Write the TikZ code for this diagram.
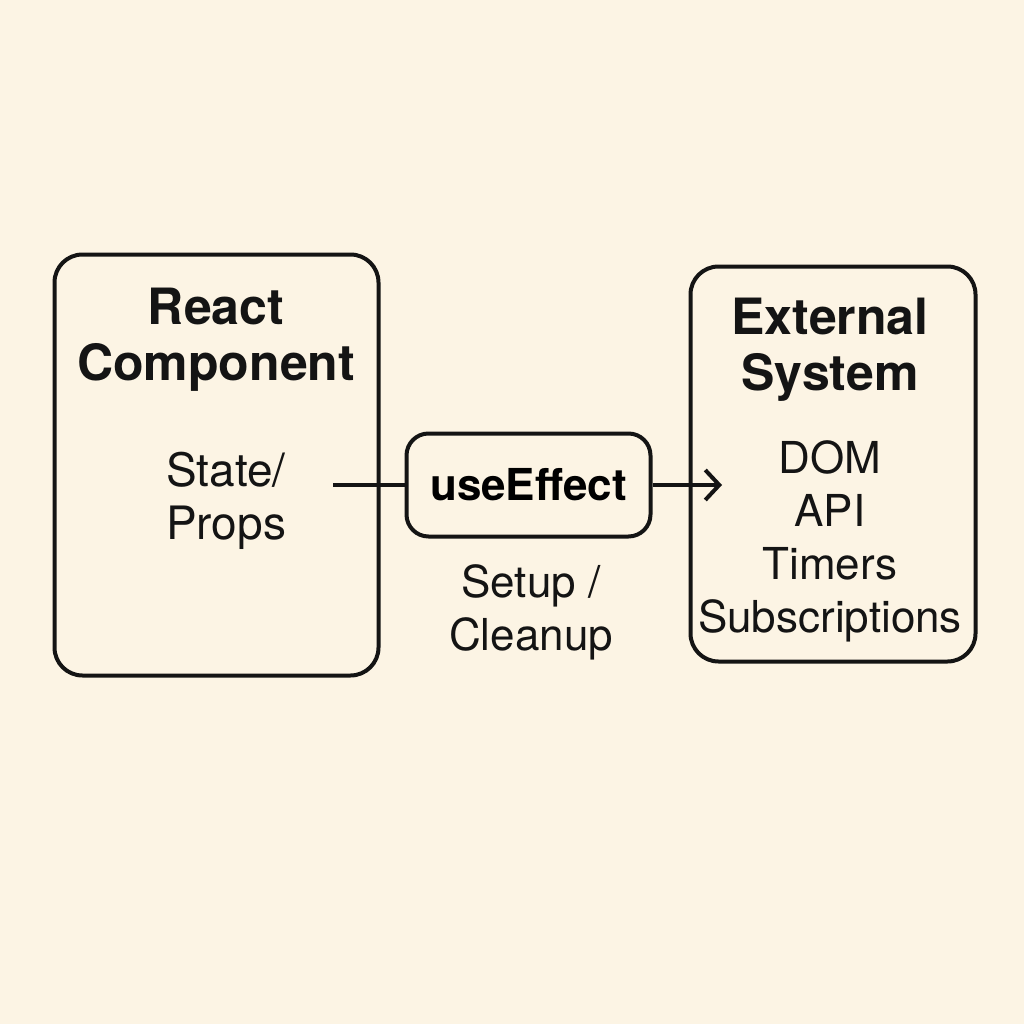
\documentclass[tikz,border=0pt]{standalone}
\usepackage{fontspec}
\setmainfont{TeX Gyre Heros}
\usetikzlibrary{arrows.meta,positioning}
\definecolor{mycream}{RGB}{252,244,228}
\definecolor{myink}{RGB}{20,20,20}
\tikzstyle{bigbox}=[draw=myink,rounded corners=28pt,line width=4pt,inner sep=0pt]
\tikzstyle{hookbox}=[draw=myink,rounded corners=22pt,line width=4pt,inner sep=0pt,minimum width=244pt,minimum height=103pt,font=\fontsize{44}{50}\selectfont\bfseries]
\tikzstyle{titletext}=[align=center,inner sep=0pt,text=myink,font=\fontsize{50}{56}\selectfont\bfseries]
\tikzstyle{bodytext}=[align=center,inner sep=0pt,text=myink,font=\fontsize{44}{53}\selectfont]

\begin{document}
\begin{tikzpicture}[x=1pt,y=-1pt,line width=4pt]
\fill[mycream] (0,0) rectangle (1024,1024);
\useasboundingbox (0,0) rectangle (1024,1024);
\draw (216.5,465) node [bigbox,minimum width=324pt,minimum height=421pt] (comp) {};
\draw (833,464) node [bigbox,minimum width=285pt,minimum height=395pt] (ext) {};
\draw (528.5,485) node [hookbox] (hook) {useEffect};
\draw (216,340) node [titletext] (comptitle) {React\\Component};
\draw (226,501) node [bodytext,font=\fontsize{46}{53}\selectfont] (state) {State/\\Props};
\draw (531,612) node [bodytext] (setup) {Setup /\\Cleanup};
\draw (830,350) node [titletext] (exttitle) {External\\System};
\draw (830,541) node [bodytext] (extlist) {DOM\\API\\Timers\\Subscriptions};
\coordinate (from) at (333,485);
\coordinate (to) at (722,485);
\draw[myink] (from) -- (hook.west);
\draw[myink,-{Straight Barb[length=14pt,width=30pt]}] (hook.east) -- (to);
\end{tikzpicture}
\end{document}
